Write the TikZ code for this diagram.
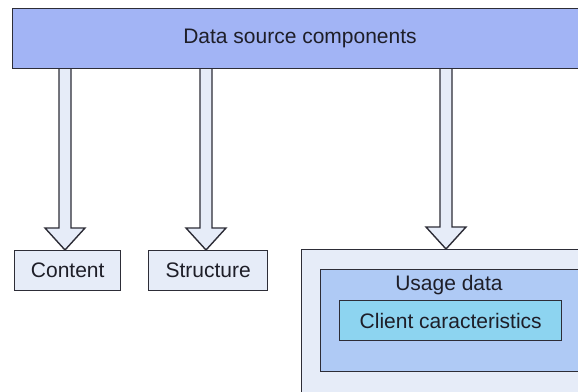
\documentclass[tikz,border=0pt]{standalone}
\usepackage{fontspec}
\setmainfont{Liberation Sans}
\usetikzlibrary{calc}
\definecolor{barblue}{RGB}{162,180,245}
\definecolor{paleblue}{RGB}{230,236,248}
\definecolor{usageblue}{RGB}{175,202,245}
\definecolor{clientcyan}{RGB}{141,212,240}
\definecolor{edge}{RGB}{45,45,55}
\definecolor{ink}{RGB}{30,30,40}
\begin{document}
\begin{tikzpicture}[x=1pt,y=1pt,
  box/.style={draw=edge,line width=1.4pt,anchor=north west,inner sep=0pt,
    font=\fontsize{21}{25}\selectfont,text=ink},
  lbl/.style={font=\fontsize{21}{25}\selectfont,text=ink,inner sep=0pt},
  fatarrow/.style={draw=edge,line width=1.4pt,fill=paleblue,line join=miter,
    to path={let \p1=(\tikztostart), \p2=(\tikztotarget) in
      (\x2-6pt,\y1) -- (\x2-6pt,\y2+22pt) -- (\x2-20pt,\y2+22pt) -- (\x2,\y2)
      -- (\x2+20pt,\y2+22pt) -- (\x2+6pt,\y2+22pt) -- (\x2+6pt,\y1) -- cycle}}]
\clip (0,0) rectangle (578,-391);
\fill[white] (0,0) rectangle (578,-391);
% arrow end points
\coordinate (s1) at (65,-66);
\coordinate (t1) at (65,-250);
\coordinate (s2) at (206,-66);
\coordinate (t2) at (206,-250);
\coordinate (s3) at (446,-66);
\coordinate (t3) at (446,-249);
\draw[fatarrow] (s1) to (t1);
\draw[fatarrow] (s2) to (t2);
\draw[fatarrow] (s3) to (t3);
% top bar
\node[box,fill=barblue,minimum width=650pt,minimum height=60pt] (bar) at (12,-8) {};
\node[lbl] (barlbl) at (300,-38) {Data source components};
% lower boxes
\node[box,fill=paleblue,minimum width=106pt,minimum height=40pt] (content) at (14,-250) {Content};
\node[box,fill=paleblue,minimum width=119pt,minimum height=40pt] (structure) at (148,-250) {Structure};
\node[box,fill=paleblue,minimum width=350pt,minimum height=170pt] (outer) at (301,-249) {};
\node[box,fill=usageblue,minimum width=320pt,minimum height=102pt] (usage) at (320,-269) {};
\node[lbl] (usagelbl) at (449,-285) {Usage data};
\node[box,fill=clientcyan,minimum width=222pt,minimum height=40pt] (client) at (339,-300) {Client caracteristics};
\end{tikzpicture}
\end{document}
